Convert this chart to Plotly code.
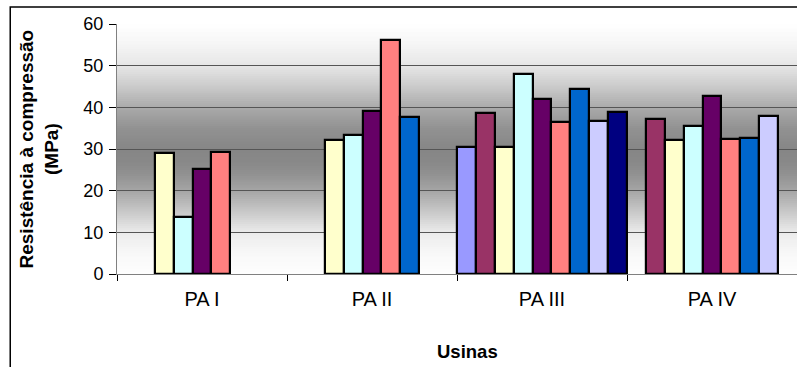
import plotly.graph_objects as go

# Compressive strength (MPa) per plant, nine sample series
usinas = ["PA I", "PA II", "PA III", "PA IV"]
serie_1 = [None, None, 30.5, None]
serie_2 = [None, None, 38.7, 37.1]
serie_3 = [29.0, 32.2, 30.4, 32.1]
serie_4 = [13.8, 33.3, 48.0, 35.5]
serie_5 = [25.3, 39.2, 42.0, 42.7]
serie_6 = [29.3, 56.2, 36.4, 32.3]
serie_7 = [None, 37.8, 44.3, 32.6]
serie_8 = [None, None, 36.8, 38.0]
serie_9 = [None, None, 38.8, None]

series = [serie_1, serie_2, serie_3, serie_4, serie_5,
          serie_6, serie_7, serie_8, serie_9]
colors = ["#9999FF", "#993366", "#FFFFCC", "#CCFFFF", "#660066",
          "#FF8080", "#0066CC", "#CCCCFF", "#000080"]
y_ticks = [0, 10, 20, 30, 40, 50, 60]

FONT = "Arial, Liberation Sans, sans-serif"

fig = go.Figure()
for i, (vals, col) in enumerate(zip(series, colors)):
    fig.add_trace(go.Bar(
        x=usinas, y=vals, name=f"Série {i + 1}",
        marker=dict(color=col, line=dict(color="#000000", width=2.2)),
        showlegend=False,
    ))

# Vertical grey gradient behind the plot area (light edges, dark middle)
stops = [(0, 254), (5, 248), (10, 235), (15, 200), (20, 165), (24, 145),
         (27, 136), (30, 134), (35, 146), (40, 170), (45, 203), (50, 230),
         (55, 245), (60, 255)]


def gray_at(v):
    for (a, ga), (b, gb) in zip(stops[:-1], stops[1:]):
        if a <= v <= b:
            t = (v - a) / (b - a)
            return int(round(ga + t * (gb - ga)))
    return 255


shapes = []
step = 0.5
v = 0.0
while v < 60:
    g = gray_at(v + step / 2)
    # each strip overlaps the next one slightly so no seams show
    shapes.append(dict(type="rect", xref="paper", yref="y", x0=0, x1=1,
                       y0=v, y1=min(v + step + 0.35, 60), layer="below",
                       fillcolor=f"rgb({g},{g},{g})", line=dict(width=0)))
    v += step

# Outer chart frame (left and top edges visible)
shapes.append(dict(type="rect", xref="paper", yref="paper",
                   x0=-0.157, x1=1.3, y0=-0.7, y1=1.068,
                   line=dict(color="#000000", width=1.5), fillcolor="rgba(0,0,0,0)"))

fig.update_layout(
    width=797, height=367,
    margin=dict(l=117, r=0, t=24, b=93),
    paper_bgcolor="#ffffff", plot_bgcolor="#ffffff",
    barmode="group", bargap=0, bargroupgap=0,
    font=dict(family=FONT, color="#000000", size=17),
    shapes=shapes,
    xaxis=dict(
        type="category", range=[-0.5, 3.5],
        showline=True, linecolor="#808080", linewidth=1,
        ticks="outside", tickson="boundaries", ticklen=6, tickcolor="#000000",
        tickfont=dict(size=20, family=FONT), ticklabelstandoff=7,
        showgrid=False,
    ),
    yaxis=dict(
        range=[0, 60], tickvals=y_ticks,
        showline=True, linecolor="#808080", linewidth=1,
        ticks="outside", ticklen=7, tickcolor="#000000",
        tickfont=dict(size=18, family=FONT), ticklabelstandoff=2,
        showgrid=True, gridcolor="#555555", gridwidth=1,
        zeroline=False,
    ),
    annotations=[
        dict(text="<b>Resistência à compressão<br>(MPa)</b>", textangle=-90,
             xref="paper", yref="paper", x=-0.114, y=0.5,
             xanchor="center", yanchor="middle", showarrow=False,
             font=dict(size=19, family=FONT)),
        dict(text="<b>Usinas</b>", xref="paper", yref="paper",
             x=0.516, y=-0.308, xanchor="center", yanchor="middle",
             showarrow=False, font=dict(size=18.5, family=FONT)),
    ],
)

fig.write_html("out.html")
